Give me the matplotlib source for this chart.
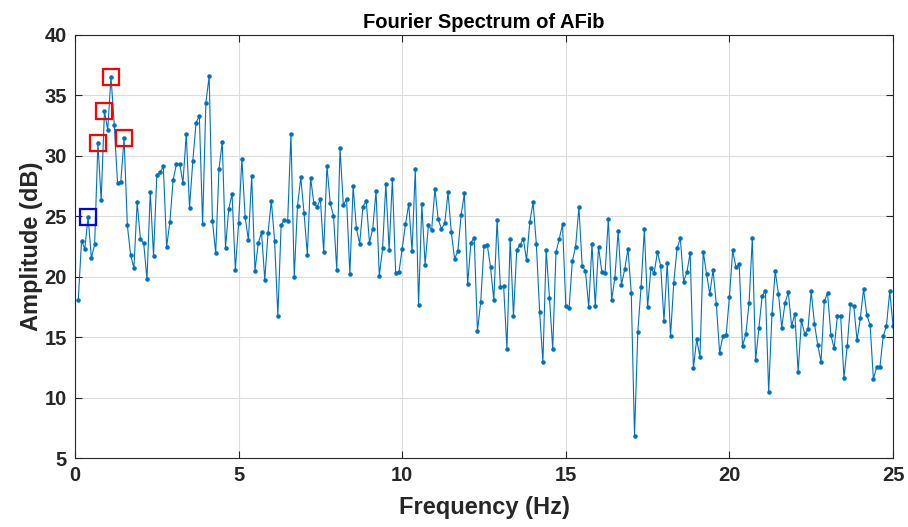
import numpy as np
import matplotlib
matplotlib.use('Agg')
import matplotlib.pyplot as plt

plt.rcParams['font.family'] = ['Liberation Sans', 'DejaVu Sans']

# frequency bins (Hz), 0.1 Hz resolution
freq = np.arange(1, 251) / 10.0

# amplitude (dB)
amp = [
    18.07, 22.98, 22.29, 24.97, 21.52, 22.68, 31.04, 26.32, 33.71, 32.14,
    36.55, 32.55, 27.75, 27.86, 31.45, 24.25, 21.77, 20.72, 26.15, 23.12,
    22.76, 19.78, 27.04, 21.71, 28.39, 28.64, 29.13, 22.46, 24.55, 28.03,
    29.30, 29.33, 27.78, 31.83, 25.71, 29.55, 32.75, 33.30, 24.33, 34.40,
    36.58, 24.61, 21.96, 28.91, 31.15, 22.40, 25.63, 26.84, 20.56, 24.42,
    29.77, 24.94, 23.01, 28.36, 20.50, 22.76, 23.67, 19.75, 23.64, 26.29,
    22.98, 16.75, 24.30, 24.69, 24.64, 31.84, 19.98, 25.88, 28.22, 25.27,
    21.82, 28.19, 26.07, 25.80, 26.40, 22.02, 29.19, 26.07, 25.05, 20.58,
    30.62, 25.93, 26.43, 20.20, 27.48, 24.00, 22.73, 25.80, 26.29, 22.82,
    23.98, 27.09, 20.06, 22.35, 27.70, 22.18, 28.08, 20.28, 20.36, 22.32,
    24.33, 26.04, 22.10, 28.88, 17.69, 25.99, 21.00, 24.25, 23.86, 27.26,
    24.75, 23.95, 24.42, 26.98, 23.70, 21.49, 22.10, 25.08, 26.90, 19.37,
    22.82, 23.23, 15.51, 17.93, 22.54, 22.62, 20.78, 18.05, 24.69, 19.12,
    19.23, 14.05, 23.12, 16.75, 22.21, 22.62, 23.15, 21.35, 24.55, 26.15,
    22.68, 17.08, 12.94, 22.18, 18.27, 14.02, 22.02, 23.15, 24.33, 17.58,
    17.38, 21.30, 22.49, 25.74, 20.91, 20.47, 17.49, 22.68, 17.58, 22.46,
    20.42, 20.31, 24.80, 18.07, 19.92, 23.78, 19.34, 20.61, 22.32, 18.68,
    6.82, 15.40, 19.18, 23.92, 17.47, 20.69, 20.31, 22.04, 20.89, 16.34,
    21.16, 15.07, 19.51, 22.35, 23.18, 19.59, 20.36, 21.96, 12.42, 14.85,
    13.33, 22.07, 20.25, 18.57, 20.56, 17.74, 13.71, 15.07, 15.15, 18.35,
    22.18, 20.78, 21.02, 14.27, 15.23, 17.80, 23.20, 13.08, 15.78, 18.40,
    18.84, 10.46, 16.89, 20.47, 18.54, 15.78, 17.85, 18.71, 15.92, 16.94,
    12.12, 16.39, 15.26, 15.65, 18.79, 16.09, 14.35, 12.97, 17.96, 18.65,
    15.20, 14.07, 16.72, 16.75, 11.62, 14.24, 17.71, 17.60, 14.74, 16.56,
    18.98, 16.81, 16.00, 11.54, 12.50, 12.53, 15.07, 15.95, 18.82, 15.95,
]
amp = np.array(amp)

# highlighted bins
red_idx = [6, 8, 10, 14]
blue_idx = [3]

fig = plt.figure(figsize=(9.08, 5.27), dpi=100)
ax = fig.add_axes([0.0826, 0.1309, 0.9009, 0.8027])

ax.plot(freq, amp, '-', color='#0072BD', lw=0.8, marker='.', ms=4.5)
ax.plot(freq[red_idx], amp[red_idx], 's', mfc='none', mec='#FF0000', ms=11, mew=1.6)
ax.plot(freq[blue_idx], amp[blue_idx], 's', mfc='none', mec='#0000FF', ms=11, mew=1.6)

ax.set_xlim(0, 25)
ax.set_ylim(5, 40)
ax.set_xticks([0, 5, 10, 15, 20, 25])
ax.set_yticks(np.arange(5, 41, 5))
ax.grid(True, color='#dcdcdc', lw=0.8)
ax.set_axisbelow(True)
ax.tick_params(direction='in', top=True, right=True, length=5, width=0.8,
               labelsize=14.5, colors='#262626', pad=6)
for lbl in ax.get_xticklabels() + ax.get_yticklabels():
    lbl.set_fontweight('bold')
for sp in ax.spines.values():
    sp.set_color('#262626')
    sp.set_linewidth(0.8)

ax.set_xlabel('Frequency (Hz)', fontsize=17, fontweight='bold', color='#262626', labelpad=8)
ax.set_ylabel('Amplitude (dB)', fontsize=17, fontweight='bold', color='#262626', labelpad=1)
ax.set_title('Fourier Spectrum of AFib', fontsize=14.5, fontweight='bold', pad=5)

fig.savefig('out.png', dpi=100)
